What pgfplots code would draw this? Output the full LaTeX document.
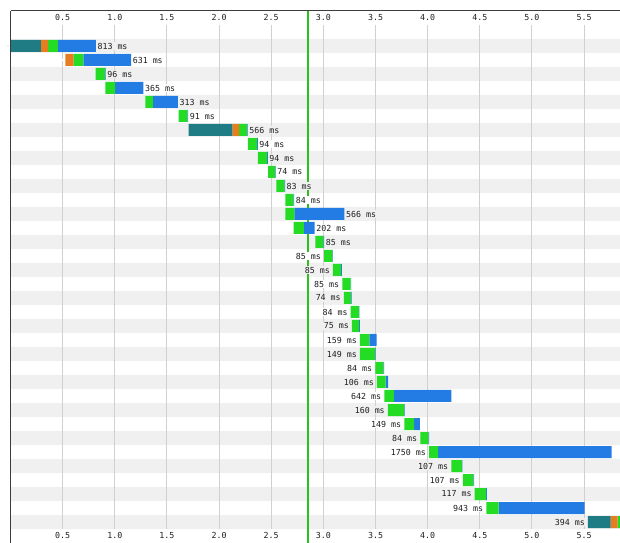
\documentclass[border=0pt]{standalone}
\usepackage{pgfplots}
\pgfplotsset{compat=1.18}
\usepackage{pgfplotstable}
\usepackage{fontspec}
\newfontfamily\wf{DejaVu Sans Mono}
\definecolor{dnscol}{RGB}{31,124,132}
\definecolor{concol}{RGB}{230,126,32}
\definecolor{ttfbcol}{RGB}{36,220,36}
\definecolor{dlcol}{RGB}{34,124,228}
\definecolor{stripe}{RGB}{240,240,240}
\definecolor{gridc}{RGB}{208,208,208}
\definecolor{linec}{RGB}{44,192,28}
\definecolor{txt}{RGB}{30,30,30}
\definecolor{border}{RGB}{60,60,60}

\pgfplotstableread{
row start dns con ttfb dl llab rlab
1 0.005 0.287 0.068 0.095 0.363 {} {813 ms}
2 0.525 0 0.081 0.092 0.458 {} {631 ms}
3 0.817 0 0 0.088 0.008 {} {96 ms}
4 0.909 0 0 0.093 0.272 {} {365 ms}
5 1.292 0 0 0.074 0.239 {} {313 ms}
6 1.613 0 0 0.084 0.007 {} {91 ms}
7 1.708 0.419 0.064 0.076 0.007 {} {566 ms}
8 2.277 0 0 0.087 0.007 {} {94 ms}
9 2.373 0 0 0.087 0.007 {} {94 ms}
10 2.469 0 0 0.068 0.006 {} {74 ms}
11 2.549 0 0 0.077 0.006 {} {83 ms}
12 2.635 0 0 0.078 0.006 {} {84 ms}
13 2.635 0 0 0.086 0.480 {} {566 ms}
14 2.715 0 0 0.099 0.103 {} {202 ms}
15 2.922 0 0 0.079 0.006 {} {85 ms}
16 3.006 0 0 0.079 0.006 {85 ms} {}
17 3.092 0 0 0.079 0.006 {85 ms} {}
18 3.181 0 0 0.079 0.006 {85 ms} {}
19 3.197 0 0 0.066 0.008 {74 ms} {}
20 3.262 0 0 0.078 0.006 {84 ms} {}
21 3.274 0 0 0.069 0.006 {75 ms} {}
22 3.351 0 0 0.089 0.070 {159 ms} {}
23 3.351 0 0 0.143 0.006 {149 ms} {}
24 3.498 0 0 0.078 0.006 {84 ms} {}
25 3.514 0 0 0.083 0.023 {106 ms} {}
26 3.584 0 0 0.093 0.549 {642 ms} {}
27 3.619 0 0 0.154 0.006 {160 ms} {}
28 3.776 0 0 0.093 0.056 {149 ms} {}
29 3.929 0 0 0.078 0.006 {84 ms} {}
30 4.013 0 0 0.086 1.664 {1750 ms} {}
31 4.226 0 0 0.101 0.006 {107 ms} {}
32 4.338 0 0 0.101 0.006 {107 ms} {}
33 4.451 0 0 0.110 0.007 {117 ms} {}
34 4.562 0 0 0.118 0.825 {943 ms} {}
35 5.537 0.218 0.067 0.090 0.019 {394 ms} {}
}\reqs

\tikzset{wflab/.style={font=\wf\fontsize{8.3bp}{10bp}\selectfont, text=txt, inner sep=1bp}}
\pgfplotsset{
  wfaxis/.style={
    at={(0,0)}, anchor=south west, scale only axis,
    width=609.5bp, height=532.3bp,
    xmin=0, xmax=5.844, ymin=-1.52, ymax=36.5, y dir=reverse,
    xtick={0.5,1,1.5,2,2.5,3,3.5,4,4.5,5,5.5},
    xticklabels={0.5,1.0,1.5,2.0,2.5,3.0,3.5,4.0,4.5,5.0,5.5},
    ytick=\empty, major tick length=0pt,
    axis line style={draw=none},
    tick label style={font=\wf\fontsize{8.3bp}{10bp}\selectfont, text=txt},
  },
  oddrows/.style={y filter/.expression={mod(y,2)>0.5 ? y : nan}},
  evenrows/.style={y filter/.expression={mod(y,2)>0.5 ? nan : y}},
}

\begin{document}
\begin{tikzpicture}
\useasboundingbox (-10.5bp,0) rectangle (609.5bp,543bp);
% background: stripes, grid, start-render line, top tick labels, request labels
\begin{axis}[wfaxis,
  xticklabel style={anchor=center, yshift=7.3bp},
]
\addplot[xbar, bar width=14bp, bar shift=0pt, fill=stripe, draw=none] coordinates {
(6,1) (6,3) (6,5) (6,7) (6,9) (6,11) (6,13) (6,15) (6,17) (6,19) (6,21) (6,23)
(6,25) (6,27) (6,29) (6,31) (6,33) (6,35)};
\pgfplotsinvokeforeach{0.5,1,1.5,2,2.5,3,3.5,4,4.5,5,5.5}{
  \addplot[gridc, line width=1bp] coordinates {(#1,-0.5) (#1,35.5)};
}
\addplot[linec, line width=1.6bp] coordinates {(2.855,-1.6) (2.855,36.6)};
\addplot[draw=none, no marks, oddrows, nodes near coords, point meta=explicit symbolic,
  every node near coord/.append style={wflab, fill=stripe, anchor=west, xshift=0.5bp}]
  table[x expr=\thisrow{start}+\thisrow{dns}+\thisrow{con}+\thisrow{ttfb}+\thisrow{dl},
        y=row, meta=rlab] {\reqs};
\addplot[draw=none, no marks, evenrows, nodes near coords, point meta=explicit symbolic,
  every node near coord/.append style={wflab, fill=white, anchor=west, xshift=0.5bp}]
  table[x expr=\thisrow{start}+\thisrow{dns}+\thisrow{con}+\thisrow{ttfb}+\thisrow{dl},
        y=row, meta=rlab] {\reqs};
\addplot[draw=none, no marks, oddrows, nodes near coords, point meta=explicit symbolic,
  every node near coord/.append style={wflab, fill=stripe, anchor=east, xshift=-2bp}]
  table[x=start, y=row, meta=llab] {\reqs};
\addplot[draw=none, no marks, evenrows, nodes near coords, point meta=explicit symbolic,
  every node near coord/.append style={wflab, fill=white, anchor=east, xshift=-2bp}]
  table[x=start, y=row, meta=llab] {\reqs};
\end{axis}
% foreground: stacked request bars, bottom tick labels
\begin{axis}[wfaxis,
  xticklabel pos=right,
  xticklabel style={anchor=center, yshift=-7bp},
  xbar stacked, bar width=12bp,
]
\addplot[fill=none, draw=none] table[x=start, y=row] {\reqs};
\addplot[draw=none, fill=dnscol] table[x=dns, y=row] {\reqs};
\addplot[draw=none, fill=concol] table[x=con, y=row] {\reqs};
\addplot[draw=none, fill=ttfbcol] table[x=ttfb, y=row] {\reqs};
\addplot[draw=none, fill=dlcol] table[x=dl, y=row] {\reqs};
\end{axis}
\draw[border, line width=1.4bp] (0,0) -- (0,532.3bp);
\draw[border, line width=1bp] (0,532.3bp) -- (609.5bp,532.3bp);
\end{tikzpicture}
\end{document}
